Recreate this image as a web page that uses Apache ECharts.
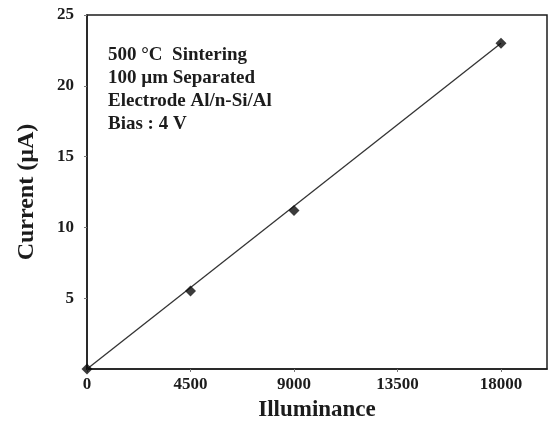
<!DOCTYPE html>
<html>
<head>
<meta charset="utf-8">
<script src="https://cdn.jsdelivr.net/npm/echarts@6/dist/echarts.min.js"></script>
<style>
  html, body { margin: 0; padding: 0; background: #fff; }
  #chart { width: 553px; height: 428px; }
</style>
</head>
<body>
<div id="chart"></div>
<script>
// Measured photocurrent vs illuminance
const illuminance = [0, 4500, 9000, 18000];
const currentUA = [0, 5.5, 11.2, 23.0];

// Linear fit drawn through the origin to the last measurement
const fitX = [0, 18000];
const fitY = [0, 23.0];

// Condition notes shown inside the plot
const notes = [
  '500 °C  Sintering',
  '100 µm Separated',
  'Electrode Al/n-Si/Al',
  'Bias : 4 V'
];

const serif = '"Liberation Serif", "DejaVu Serif", serif';
const ink = '#1c1c1c';

const chart = echarts.init(document.getElementById('chart'), null, { renderer: 'canvas' });

chart.setOption({
  animation: false,
  backgroundColor: '#fff',
  grid: {
    left: 87, right: 6, top: 15, bottom: 59,
    outerBoundsMode: 'none',
    containLabel: false,
    show: true, borderColor: ink, borderWidth: 1.5, backgroundColor: 'transparent'
  },
  xAxis: {
    type: 'value',
    min: 0, max: 20000, interval: 4500,
    name: 'Illuminance',
    nameLocation: 'middle',
    nameGap: 30,
    nameTextStyle: { fontFamily: serif, fontWeight: 'bold', fontSize: 23, color: ink },
    axisLine: { show: true, lineStyle: { color: ink, width: 1.5 } },
    axisTick: { show: true, inside: false, length: 3, lineStyle: { color: '#777' } },
    axisLabel: {
      fontFamily: serif, fontWeight: 'bold', fontSize: 17, color: ink, margin: 7,
      showMaxLabel: false,
      formatter: (v) => String(v)
    },
    splitLine: { show: false }
  },
  yAxis: {
    type: 'value',
    min: 0, max: 25, interval: 5,
    name: 'Current (µA)',
    nameLocation: 'middle',
    nameGap: 48,
    nameRotate: 90,
    nameTextStyle: { fontFamily: serif, fontWeight: 'bold', fontSize: 24, color: ink },
    axisLine: { show: true, lineStyle: { color: ink, width: 1.5 } },
    axisTick: { show: true, inside: false, length: 3, lineStyle: { color: '#777' } },
    axisLabel: {
      fontFamily: serif, fontWeight: 'bold', fontSize: 17, color: ink, margin: 13,
      showMinLabel: false,
      formatter: (v) => String(v)
    },
    splitLine: { show: false }
  },
  graphic: [{
    type: 'text',
    left: 108, top: 44,
    style: {
      text: notes.join('\n'),
      fontFamily: serif, fontWeight: 'bold', fontSize: 19, lineHeight: 23,
      fill: ink
    }
  }],
  series: [
    {
      name: 'fit',
      type: 'line',
      data: fitX.map((x, i) => [x, fitY[i]]),
      symbol: 'none',
      lineStyle: { color: '#333', width: 1.3 },
      z: 2
    },
    {
      name: 'measured',
      type: 'scatter',
      data: illuminance.map((x, i) => [x, currentUA[i]]),
      symbol: 'diamond',
      symbolSize: 11,
      itemStyle: { color: '#0a0a0a' },
      z: 3
    }
  ]
});
</script>
</body>
</html>
